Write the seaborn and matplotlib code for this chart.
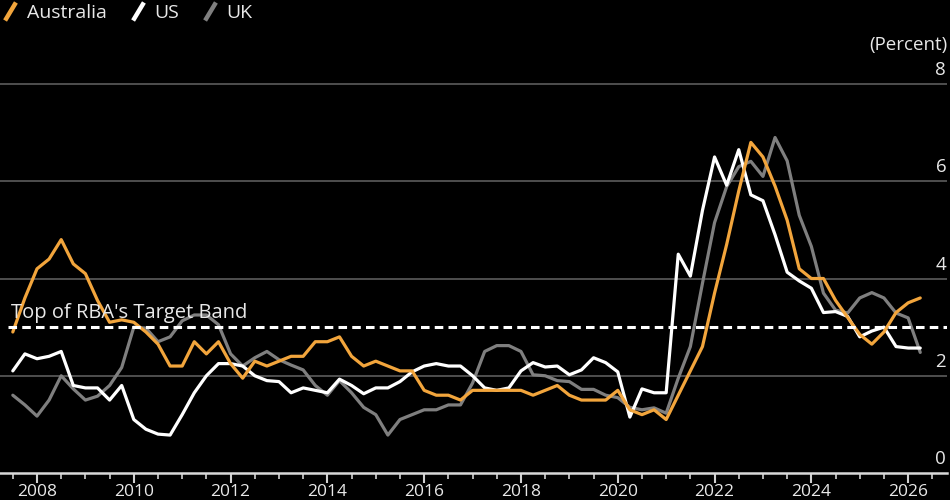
import numpy as np
import pandas as pd
import matplotlib
matplotlib.use("Agg")
import matplotlib.pyplot as plt
import matplotlib.transforms as mtransforms
from matplotlib.lines import Line2D
import seaborn as sns

# ---------------- data (quarterly, % y/y) ----------------
start_quarter = "2007-07-01"
n_quarters = 76

australia = [2.9, 3.6, 4.2, 4.4, 4.8, 4.3, 4.1, 3.55, 3.1, 3.15,
             3.1, 2.9, 2.65, 2.2, 2.2, 2.7, 2.45, 2.7, 2.25, 1.95,
             2.3, 2.2, 2.3, 2.4, 2.4, 2.7, 2.7, 2.8, 2.4, 2.2,
             2.3, 2.2, 2.1, 2.1, 1.7, 1.6, 1.6, 1.5, 1.7, 1.7,
             1.7, 1.7, 1.7, 1.6, 1.7, 1.8, 1.6, 1.5, 1.5, 1.5,
             1.7, 1.3, 1.2, 1.3, 1.1, 1.6, 2.1, 2.6, 3.7, 4.7,
             5.8, 6.8, 6.5, 5.9, 5.2, 4.2, 4.0, 4.0, 3.55, 3.2,
             2.85, 2.65, 2.9, 3.3, 3.5, 3.6]

us = [2.1, 2.45, 2.35, 2.4, 2.5, 1.8, 1.75, 1.75, 1.5, 1.8,
      1.1, 0.9, 0.8, 0.78, 1.2, 1.65, 2.0, 2.25, 2.25, 2.2,
      2.0, 1.9, 1.88, 1.65, 1.75, 1.7, 1.65, 1.93, 1.8, 1.63,
      1.75, 1.75, 1.88, 2.08, 2.2, 2.25, 2.2, 2.2, 2.0, 1.75,
      1.7, 1.75, 2.1, 2.27, 2.18, 2.2, 2.02, 2.12, 2.37, 2.27,
      2.08, 1.15, 1.73, 1.65, 1.65, 4.5, 4.05, 5.4, 6.5, 5.92,
      6.65, 5.72, 5.6, 4.9, 4.13, 3.95, 3.8, 3.3, 3.32, 3.22,
      2.8, 2.92, 3.0, 2.6, 2.57, 2.57]

uk = [1.6, 1.4, 1.17, 1.5, 2.0, 1.73, 1.5, 1.58, 1.8, 2.17,
      3.0, 2.98, 2.7, 2.8, 3.13, 3.25, 3.25, 3.05, 2.45, 2.2,
      2.37, 2.5, 2.33, 2.22, 2.12, 1.8, 1.6, 1.9, 1.65, 1.35,
      1.2, 0.78, 1.1, 1.2, 1.3, 1.3, 1.4, 1.4, 1.85, 2.5,
      2.62, 2.62, 2.5, 2.02, 2.0, 1.9, 1.88, 1.72, 1.72, 1.6,
      1.55, 1.35, 1.3, 1.34, 1.23, 1.95, 2.6, 3.9, 5.15, 5.89,
      6.3, 6.41, 6.1, 6.9, 6.42, 5.3, 4.66, 3.7, 3.35, 3.29,
      3.6, 3.71, 3.6, 3.29, 3.19, 2.48]

series_names = ["Australia", "US", "UK"]
series_colors = ["#F2A53C", "#FFFFFF", "#7F7F7F"]
target_band_top = 3
target_label = "Top of RBA's Target Band"
y_ticks = [0, 2, 4, 6, 8]
x_label_years = list(range(2008, 2027, 2))
unit_label = "(Percent)"

# ---------------- build table ----------------
dates = pd.date_range(start_quarter, periods=n_quarters, freq="QS")
dec_year = dates.year + (dates.month - 1) / 12.0
df = pd.concat([
    pd.DataFrame({"year": dec_year, "value": vals, "country": name})
    for name, vals in zip(series_names, [australia, us, uk])
], ignore_index=True)

# ---------------- style ----------------
sns.set_theme(style="dark")
plt.rcParams["font.family"] = ["Open Sans", "DejaVu Sans"]
txt_color = "#E8E8E8"
grid_color = "#555555"

fig = plt.figure(figsize=(9.5, 5), dpi=100, facecolor="black")
ax = fig.add_axes([0.0, 0.054, 0.997, 0.7974])
ax.set_facecolor("black")

palette = dict(zip(series_names, series_colors))
draw_order = ["UK", "US", "Australia"]
for name in draw_order:
    sns.lineplot(data=df[df["country"] == name], x="year", y="value",
                 color=palette[name], lw=2.3, ax=ax, legend=False,
                 zorder=3 + draw_order.index(name))

ax.set_xlim(2007.2354, 2026.806)
ax.set_ylim(0, 8.2)

# grid
ax.set_yticks([t for t in y_ticks if t > 0])
ax.yaxis.grid(True, color=grid_color, lw=1.3)
ax.xaxis.grid(False)
ax.tick_params(axis="y", left=False, right=False, labelleft=False)
trans = mtransforms.blended_transform_factory(ax.transAxes, ax.transData)
for t in y_ticks:
    ax.text(0.999, t + 0.1, str(t), transform=trans, ha="right", va="bottom",
            color=txt_color, fontsize=13.5)
fig.text(0.997, 0.91, unit_label, ha="right", va="center", color=txt_color,
         fontsize=13.5)

# x axis
ax.set_xticks(x_label_years)
ax.set_xticks(np.arange(2007.5, 2026.6, 0.5), minor=True)
ax.set_xticklabels([str(y) for y in x_label_years])
ax.tick_params(axis="x", which="major", length=7, width=1.5, color="#D0D0D0",
               labelcolor=txt_color, labelsize=12.5, pad=1.0, bottom=True,
               direction="out")
ax.tick_params(axis="x", which="minor", length=4, width=1.2, color="#D0D0D0",
               bottom=True, direction="out")
for s in ["top", "left", "right"]:
    ax.spines[s].set_visible(False)
ax.spines["bottom"].set_color("#D8D8D8")
ax.spines["bottom"].set_linewidth(1.8)
ax.set_xlabel("")
ax.set_ylabel("")

# target band
ax.axhline(target_band_top, xmin=0.008, xmax=1.0, color="white", lw=2.2,
           ls=(0, (2.8, 1.7)), zorder=6)
ax.text(0.012, target_band_top + 0.09, target_label, transform=trans,
        ha="left", va="bottom", color=txt_color, fontsize=14.5, zorder=7)

# legend
slash = [(-0.6, -1.0), (0.6, 1.0)]
handles = [Line2D([], [], color=c, lw=0, marker=slash, markersize=13,
                  markeredgewidth=3.2, markeredgecolor=c)
           for c in series_colors]
leg = fig.legend(handles, series_names, loc="upper left",
                 bbox_to_anchor=(-0.018, 1.028), ncol=3, frameon=False,
                 handlelength=1.0, handletextpad=0.35, columnspacing=1.1,
                 fontsize=14, labelcolor=txt_color)

fig.savefig("out.png", dpi=100, facecolor="black")
